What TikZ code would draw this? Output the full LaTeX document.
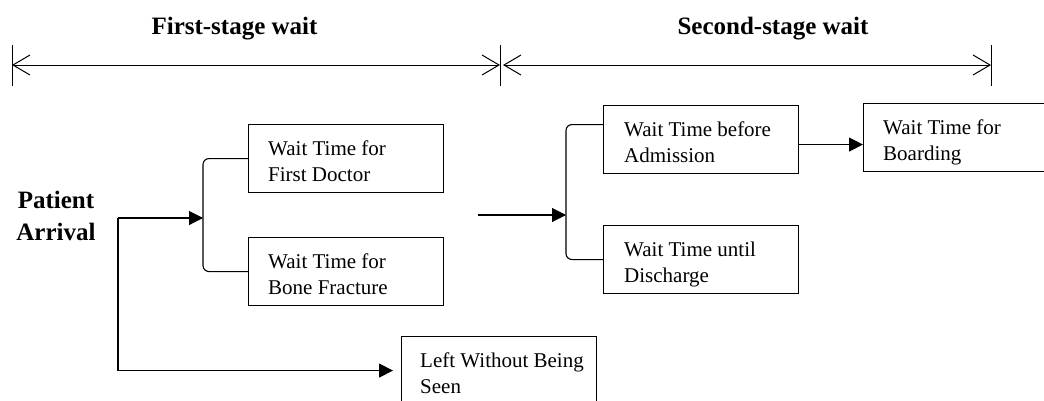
\documentclass[tikz,border=0pt]{standalone}
\usepackage{fontspec}
\setmainfont{Liberation Serif}
\usetikzlibrary{arrows.meta,calc}
\begin{document}
\begin{tikzpicture}[x=1pt,y=-1pt,
  box/.style={draw, line width=1.1pt, minimum width=195pt, minimum height=68pt, inner sep=0pt, anchor=north west},
  lbl/.style={anchor=north west, inner sep=0pt, align=left, font=\fontsize{21}{26}\selectfont},
  ttl/.style={font=\bfseries\fontsize{25}{32}\selectfont, inner sep=0pt},
  conn/.style={line width=1.1pt},
  arr/.style={conn, -{Triangle[length=14pt,width=14pt]}},
  dim/.style={line width=1pt, {Straight Barb[length=17pt,width=20pt]}-{Straight Barb[length=17pt,width=20pt]}},
  tickline/.style={line width=1pt},
  bracket/.style={conn, rounded corners=6pt}]
\useasboundingbox (0,0) rectangle (1044,400);

% titles and dimension lines
\node[ttl, anchor=base] (T1) at (234.5,34) {First-stage wait};
\node[ttl, anchor=base] (T2) at (773,34) {Second-stage wait};
\coordinate (t1) at (12,65);
\coordinate (t2) at (500,65);
\coordinate (t2b) at (503,65);
\coordinate (t3) at (991,65);
\foreach \t in {t1,t2,t3}{\draw[tickline] ($(\t)+(0,-20)$) -- ($(\t)+(0,21)$);}
\draw[dim] (t1) -- (t2);
\draw[dim] (t2b) -- (t3);

% boxes
\node[box] (A) at (248,124) {};
\node[box] (B) at (248,237) {};
\node[box] (C) at (401,336) {};
\node[box] (D) at (603,105) {};
\node[box] (E) at (603,225) {};
\node[box] (F) at (863,103) {};
\node[lbl] (Al) at ($(A.north west)+(20,17)$) {Wait Time for\\First Doctor};
\node[lbl] (Bl) at ($(B.north west)+(20,17)$) {Wait Time for\\Bone Fracture};
\node[lbl] (Cl) at ($(C.north west)+(19,17)$) {Left Without Being\\Seen};
\node[lbl] (Dl) at ($(D.north west)+(21,17)$) {Wait Time before\\Admission};
\node[lbl] (El) at ($(E.north west)+(21,17)$) {Wait Time until\\Discharge};
\node[lbl] (Fl) at ($(F.north west)+(20,17)$) {Wait Time for\\Boarding};

% patient arrival
\node[ttl, align=center] (P) at (56,216) {Patient\\Arrival};

% first stage connectors
\coordinate (split) at (118,218);
\coordinate (b1) at (203,218);
\draw[arr] (split) -- (b1);
\draw[arr] (split) |- ($(C.west)+(-8,0)$);
\draw[bracket] (A.west) -| (b1) |- (B.west);

% second stage connectors
\coordinate (s2) at (478,215);
\coordinate (b2) at (566,215);
\draw[arr] (s2) -- (b2);
\draw[bracket] ([yshift=15pt]D.west) -| (b2) |- (E.west);
\draw[arr] ([yshift=-5pt]D.east) -- ([yshift=-5pt]D.east -| F.west);
\end{tikzpicture}
\end{document}
